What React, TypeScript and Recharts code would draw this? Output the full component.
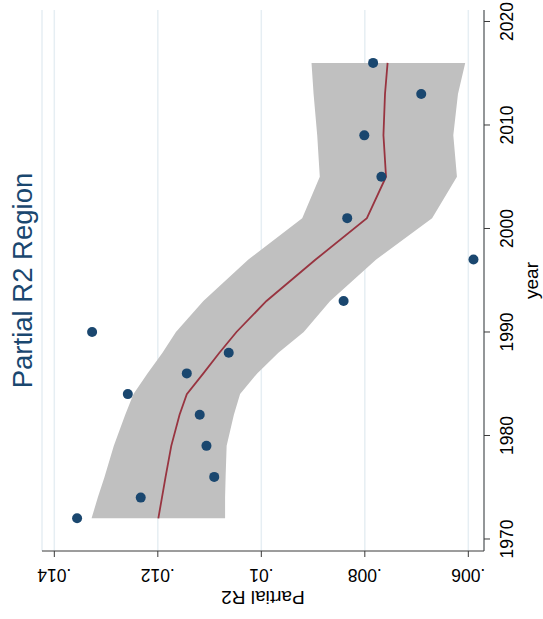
import React from "react"
import { ComposedChart, Area, Line, Scatter, XAxis, YAxis, CartesianGrid } from "recharts"

// Stata-style chart, drawn upright and then turned 90deg counter-clockwise
const years = [1972, 1974, 1976, 1979, 1982, 1984, 1986, 1988, 1990, 1993, 1997, 2001, 2005, 2009, 2013, 2016]
const partialR2 = [0.01356, 0.01233, 0.01091, 0.01106, 0.01119, 0.01258, 0.01144, 0.01063, 0.01327, 0.00841, 0.0059, 0.00834, 0.00768, 0.00801, 0.00691, 0.00784]
const fitted = [0.01199, 0.01192, 0.01185, 0.01174, 0.01158, 0.01144, 0.01112, 0.01081, 0.01048, 0.0099, 0.00895, 0.00796, 0.00759, 0.00764, 0.00761, 0.00756]
const ciLow = [0.0107, 0.0107, 0.01069, 0.01067, 0.01053, 0.01041, 0.01008, 0.00967, 0.00918, 0.00867, 0.00778, 0.0067, 0.00622, 0.00629, 0.0062, 0.00606]
const ciHigh = [0.01328, 0.01316, 0.01303, 0.01285, 0.01263, 0.01247, 0.0122, 0.01191, 0.01165, 0.01112, 0.01025, 0.00921, 0.00887, 0.00892, 0.00899, 0.00903]

const yearTicks = [1970, 1980, 1990, 2000, 2010, 2020]
const r2Ticks = [0.006, 0.008, 0.01, 0.012, 0.014]
const r2TickLabels = [".006", ".008", ".01", ".012", ".014"]

const FONT = '"Liberation Sans", Arial, Helvetica, sans-serif'
const NAVY = "#1a476f"
const MAROON = "#983440"
const AXIS = "#3a3a3a"

const W = 619
const H = 543

export default function App() {
    const data = years.map((year, i) => ({
        year,
        r2: partialR2[i],
        fit: fitted[i],
        band: [ciLow[i], ciHigh[i]],
    }))

    const YTick = (props: any) => {
        const { x, y, payload } = props
        const idx = r2Ticks.indexOf(payload.value)
        const cx = x - 18.4
        return (
            <text
                x={cx}
                y={y}
                transform={`rotate(-90 ${cx} ${y})`}
                textAnchor="middle"
                dominantBaseline="central"
                fontSize={17.5}
                fontFamily={FONT}
                fill="#000"
            >
                {idx >= 0 ? r2TickLabels[idx] : payload.value}
            </text>
        )
    }

    return (
        <div
            style={{
                position: "absolute",
                left: 0,
                top: 0,
                width: W,
                height: H,
                background: "#fff",
                transformOrigin: "0 0",
                transform: `translate(0px, ${W}px) rotate(-90deg)`,
                fontFamily: FONT,
            }}
        >
            <div
                style={{
                    position: "absolute",
                    left: 68,
                    width: 541,
                    top: 9,
                    fontSize: 27.5,
                    lineHeight: "28px",
                    textAlign: "center",
                    color: NAVY,
                }}
            >
                Partial R2 Region
            </div>
            <ComposedChart width={W} height={H} data={data} margin={{ top: 42, right: 10, bottom: 0, left: 0 }}>
                <CartesianGrid vertical={false} stroke="#e6eef3" strokeWidth={1.5} />
                <XAxis
                    type="number"
                    dataKey="year"
                    domain={[1968.84, 2021.11]}
                    ticks={yearTicks}
                    interval={0}
                    height={59}
                    tickSize={6}
                    tickMargin={11}
                    stroke={AXIS}
                    tick={{ fontSize: 17.5, fill: "#000", fontFamily: FONT }}
                    label={{
                        content: (p: any) => {
                            const vb = p.viewBox
                            return (
                                <text x={vb.x + vb.width / 2} y={531.5} textAnchor="middle" dominantBaseline="central" fontSize={19} fontFamily={FONT} fill="#000">
                                    year
                                </text>
                            )
                        },
                    }}
                />
                <YAxis
                    type="number"
                    domain={[0.005697, 0.014238]}
                    ticks={r2Ticks}
                    interval={0}
                    width={68}
                    tickSize={6}
                    tickMargin={0}
                    stroke={AXIS}
                    tick={YTick}
                    label={{
                        content: (p: any) => {
                            const vb = p.viewBox
                            const cy = vb.y + vb.height / 2
                            return (
                                <text x={22} y={cy} transform={`rotate(-90 22 ${cy})`} textAnchor="middle" dominantBaseline="central" fontSize={19} fontFamily={FONT} fill="#000">
                                    Partial R2
                                </text>
                            )
                        },
                    }}
                />
                <Area dataKey="band" type="linear" fill="#c0c0c0" fillOpacity={1} stroke="none" isAnimationActive={false} />
                <Line dataKey="fit" type="linear" stroke={MAROON} strokeWidth={1.8} dot={false} isAnimationActive={false} />
                <Scatter
                    dataKey="r2"
                    isAnimationActive={false}
                    shape={(p: any) => <circle cx={p.cx} cy={p.cy} r={5} fill={NAVY} />}
                />
            </ComposedChart>
        </div>
    )
}
